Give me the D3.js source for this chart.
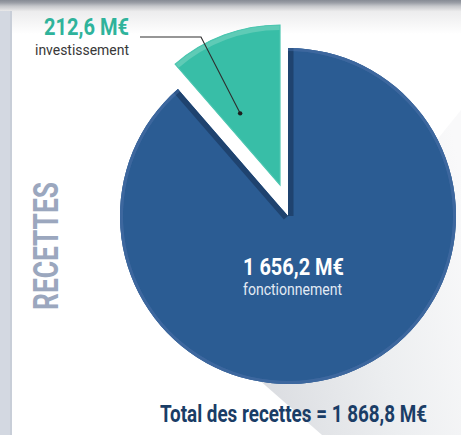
<!DOCTYPE html>
<html>
<head>
<meta charset="utf-8">
<script src="https://cdn.jsdelivr.net/npm/d3@7"></script>
<style>
  html, body { margin: 0; padding: 0; background: #ffffff; }
  svg { display: block; }
</style>
</head>
<body>
<svg id="chart" width="461" height="435"></svg>
<script>
// Budget receipts split (millions of euros)
const categories = ["fonctionnement", "investissement"];
const values = [1656.2, 212.6];
const valueLabels = ["1 656,2 M€", "212,6 M€"];
const sideTitle = "RECETTES";
const totalLabel = "Total des recettes = 1 868,8 M€";

const W = 461, H = 435;
const cx = 288, cy = 216;
const rMain = 168, rExploded = 160;
const explode = [-8, -31];

const svg = d3.select("#chart");
const defs = svg.append("defs");

// ---- page frame ----
const topGrad = defs.append("linearGradient").attr("id", "topGrad")
  .attr("x1", 0).attr("y1", 0).attr("x2", 0).attr("y2", 1);
[[0, "#868b94"], [0.25, "#9a9ea6"], [0.55, "#c4c6ca"], [1, "#e9e9ea"]]
  .forEach(([o, c]) => topGrad.append("stop").attr("offset", o).attr("stop-color", c));

const panelGrad = defs.append("linearGradient").attr("id", "panelGrad")
  .attr("x1", 0).attr("y1", 0).attr("x2", 0).attr("y2", 1);
[[0, "#ebebec"], [1, "#ffffff"]]
  .forEach(([o, c]) => panelGrad.append("stop").attr("offset", o).attr("stop-color", c));

const shadowGrad = defs.append("linearGradient").attr("id", "shadowGrad")
  .attr("x1", 0).attr("y1", 0.5).attr("x2", 1).attr("y2", 0.2);
[[0, "#dcdee2"], [0.5, "#eceef0"], [1, "#f9f9fa"]]
  .forEach(([o, c]) => shadowGrad.append("stop").attr("offset", o).attr("stop-color", c));

svg.append("rect").attr("width", W).attr("height", H).attr("fill", "#ffffff");
svg.append("rect").attr("x", 0).attr("y", 10).attr("width", W).attr("height", 24)
  .attr("fill", "url(#panelGrad)");
svg.append("rect").attr("x", 0).attr("y", 0).attr("width", 12).attr("height", H)
  .attr("fill", "#d3d8e1");
svg.append("rect").attr("x", 10).attr("y", 0).attr("width", 2).attr("height", H)
  .attr("fill", "#c8ced8");
svg.append("rect").attr("x", 0).attr("y", 0).attr("width", W).attr("height", 11)
  .attr("fill", "url(#topGrad)");

// long soft shadow toward the lower right
svg.append("path")
  .attr("d", `M250,372 L322,435 L${W},435 L${W},110 Z`)
  .attr("fill", "url(#shadowGrad)");

// ---- pie ----
const pie = d3.pie().sort(null).value(d => d.value);
const arcs = pie(categories.map((c, i) => ({ name: c, value: values[i], label: valueLabels[i] })));
const fonc = arcs[0], inv = arcs[1];

const blueArc = d3.arc().innerRadius(0).outerRadius(rMain);
const blueRim = d3.arc().innerRadius(rMain - 3).outerRadius(rMain);

const g = svg.append("g").attr("transform", `translate(${cx},${cy})`);

defs.append("clipPath").attr("id", "blueClip")
  .append("path").attr("d", blueArc(fonc));

g.append("path").attr("d", blueArc(fonc)).attr("fill", "#2b5c93");
g.append("path").attr("d", blueRim(fonc)).attr("fill", "#3d689f");

// inner shading along the notch edges
const edge = (a, r) => [Math.sin(a) * r, -Math.cos(a) * r];
const shade = g.append("g").attr("clip-path", "url(#blueClip)");
[fonc.startAngle, fonc.endAngle].forEach(a => {
  const p = edge(a, rMain);
  shade.append("line")
    .attr("x1", 0).attr("y1", 0).attr("x2", p[0]).attr("y2", p[1])
    .attr("stroke", "#1f436f").attr("stroke-width", 11);
});
g.append("path").attr("d", blueRim(fonc)).attr("fill", "#3d689f").attr("opacity", 0.6);

// exploded investment slice
const tealArc = d3.arc().innerRadius(0).outerRadius(rExploded);
const tealRim = d3.arc().innerRadius(rExploded - 5).outerRadius(rExploded);
const tg = g.append("g").attr("transform", `translate(${explode[0]},${explode[1]})`);
tg.append("path").attr("d", tealArc(inv)).attr("fill", "#38bea7");
tg.append("path").attr("d", tealRim(inv)).attr("fill", "#5fcbb6");
tg.append("path").attr("d", tealArc(inv)).attr("fill", "none")
  .attr("stroke", "#4cc6b0").attr("stroke-width", 1.2);

// leader from the slice to its label
const dotA = inv.startAngle + (inv.endAngle - inv.startAngle) * 0.29;
const dotP = edge(dotA, 82);
const dot = [cx + explode[0] + dotP[0], cy + explode[1] + dotP[1]];
const elbow = [201, 37];
svg.append("polyline")
  .attr("points", `140,37 ${elbow[0]},${elbow[1]} ${dot[0]},${dot[1]}`)
  .attr("fill", "none").attr("stroke", "#2e2e2e").attr("stroke-width", 1.1);
svg.append("circle").attr("cx", dot[0]).attr("cy", dot[1]).attr("r", 2.2).attr("fill", "#1e1e1e");

// ---- text ----
const font = "Roboto, 'Liberation Sans', sans-serif";

svg.append("text").text(inv.data.label)
  .attr("x", 129).attr("y", 35).attr("text-anchor", "end")
  .attr("font-family", font).attr("font-weight", 700).attr("font-size", 24)
  .attr("textLength", 85).attr("lengthAdjust", "spacingAndGlyphs")
  .attr("fill", "#2fb39b");
svg.append("text").text(inv.data.name)
  .attr("x", 129).attr("y", 55).attr("text-anchor", "end")
  .attr("font-family", font).attr("font-weight", 400).attr("font-size", 15.5)
  .attr("textLength", 94).attr("lengthAdjust", "spacingAndGlyphs")
  .attr("fill", "#383838");

svg.append("text").text(fonc.data.label)
  .attr("x", 293.5).attr("y", 275).attr("text-anchor", "middle")
  .attr("font-family", font).attr("font-weight", 700).attr("font-size", 24)
  .attr("textLength", 101).attr("lengthAdjust", "spacingAndGlyphs")
  .attr("fill", "#ffffff");
svg.append("text").text(fonc.data.name)
  .attr("x", 292.5).attr("y", 295).attr("text-anchor", "middle")
  .attr("font-family", font).attr("font-weight", 400).attr("font-size", 16)
  .attr("textLength", 99).attr("lengthAdjust", "spacingAndGlyphs")
  .attr("fill", "#e3eaf3");

svg.append("text").text(sideTitle)
  .attr("transform", "translate(58,246) rotate(-90)")
  .attr("text-anchor", "middle")
  .attr("font-family", font).attr("font-weight", 700).attr("font-size", 35)
  .attr("textLength", 128).attr("lengthAdjust", "spacingAndGlyphs")
  .attr("fill", "#9ba7be");

svg.append("text").text(totalLabel)
  .attr("x", 293.5).attr("y", 422).attr("text-anchor", "middle")
  .attr("font-family", font).attr("font-weight", 700).attr("font-size", 24)
  .attr("textLength", 267).attr("lengthAdjust", "spacingAndGlyphs")
  .attr("fill", "#1a3d66");
</script>
</body>
</html>
